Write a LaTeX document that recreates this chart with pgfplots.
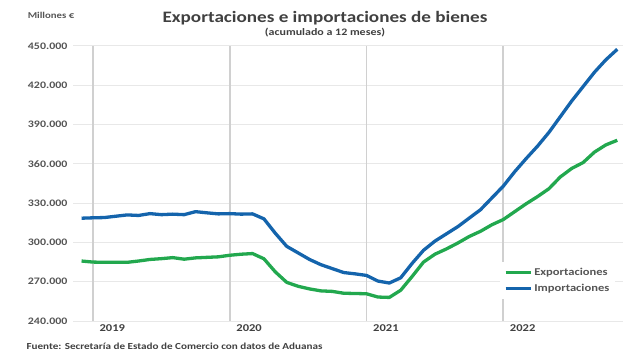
\documentclass[border=0pt]{standalone}
\usepackage{pgfplots}
\pgfplotsset{compat=1.18}
\usepackage{fontspec}
\setmainfont[FakeStretch=1.2]{Carlito}
\definecolor{expgreen}{RGB}{34,168,78}
\definecolor{impblue}{RGB}{20,100,172}
\definecolor{txt}{RGB}{85,85,85}
\definecolor{titc}{RGB}{64,64,64}
\definecolor{yearline}{RGB}{208,208,208}
\definecolor{gridc}{RGB}{232,232,232}
\begin{document}
\begin{tikzpicture}
\useasboundingbox (-73bp,-39bp) rectangle (567bp,321bp);
\begin{axis}[
 at={(0,0)}, anchor=south west,
 scale only axis, width=550bp, height=275bp,
 xmin=-1.75, xmax=46.5, ymin=240000, ymax=450000,
 axis line style={draw=none},
 major tick length=0pt,
 xtick={1.7,13.7,25.7,37.7}, xticklabels={2019,2020,2021,2022},
 ytick={240000,270000,300000,330000,360000,390000,420000,450000},
 scaled y ticks=false,
 yticklabel style={xshift=-2bp, /pgf/number format/.cd, fixed, 1000 sep={.}, assume math mode=true},
 ticklabel style={font=\bfseries\fontsize{10}{12}\selectfont, text=txt},
 xticklabel style={font=\bfseries\fontsize{10.5}{12}\selectfont, text=titc},
 ymajorgrids, grid style={gridc, line width=1bp},
 extra x ticks={0,12,24,36}, extra x tick labels={},
 extra x tick style={grid=major, major grid style={yearline, line width=1.8bp}},
 legend style={at={(0.776,0.215)}, anchor=north west, draw=none, fill=white,
   font=\bfseries\fontsize{10.5}{12}\selectfont, text=txt, row sep=3bp, inner sep=4bp},
 legend cell align=left,
 legend image code/.code={\draw[#1] (0bp,0bp) -- (25bp,0bp);},
]
\addplot[expgreen, line width=3.3bp, line join=round] coordinates {
(-1,285.8e3)(0,285.0e3)(1,284.8e3)(2,284.8e3)(3,284.8e3)(4,285.8e3)(5,287.0e3)(6,287.6e3)
(7,288.4e3)(8,287.2e3)(9,288.2e3)(10,288.6e3)(11,289.0e3)(12,290.2e3)(13,291.0e3)(14,291.5e3)
(15,287.5e3)(16,277.5e3)(17,269.5e3)(18,266.5e3)(19,264.5e3)(20,263.0e3)(21,262.6e3)(22,261.2e3)
(23,261.0e3)(24,260.8e3)(25,258.3e3)(26,258.0e3)(27,263.5e3)(28,274.0e3)(29,285.0e3)(30,291.0e3)
(31,295.0e3)(32,299.5e3)(33,304.5e3)(34,308.5e3)(35,313.5e3)(36,317.5e3)(37,323.5e3)(38,329.5e3)
(39,335.0e3)(40,341.0e3)(41,350.0e3)(42,356.5e3)(43,361.0e3)(44,369.0e3)(45,374.5e3)(46,378.0e3)
};
\addlegendentry{Exportaciones}
\addplot[impblue, line width=3.3bp, line join=round] coordinates {
(-1,318.5e3)(0,318.8e3)(1,319.0e3)(2,320.0e3)(3,321.0e3)(4,320.6e3)(5,322.0e3)(6,321.2e3)
(7,321.6e3)(8,321.2e3)(9,323.5e3)(10,322.6e3)(11,321.8e3)(12,322.0e3)(13,321.6e3)(14,321.8e3)
(15,318.0e3)(16,307.0e3)(17,297.0e3)(18,292.0e3)(19,287.0e3)(20,283.0e3)(21,280.0e3)(22,277.0e3)
(23,276.0e3)(24,274.8e3)(25,270.5e3)(26,269.0e3)(27,273.0e3)(28,284.0e3)(29,294.0e3)(30,301.0e3)
(31,306.5e3)(32,312.0e3)(33,318.5e3)(34,325.0e3)(35,334.0e3)(36,343.0e3)(37,354.0e3)(38,364.0e3)
(39,373.5e3)(40,384.0e3)(41,396.0e3)(42,408.0e3)(43,419.0e3)(44,430.0e3)(45,439.5e3)(46,447.5e3)
};
\addlegendentry{Importaciones}
\end{axis}
\node[font=\bfseries\fontsize{16}{19}\selectfont, text=titc] at (252bp,303bp) {Exportaciones e importaciones de bienes};
\node[font=\bfseries\fontsize{10}{12}\selectfont, text=titc] at (252bp,288bp) {(acumulado a 12 meses)};
\node[font=\bfseries\fontsize{9}{11}\selectfont, text=txt] at (-22bp,306bp) {Millones €};
\node[font=\bfseries\fontsize{9.3}{11}\selectfont, text=titc, anchor=west] at (-50bp,-25bp) {Fuente: Secretaría de Estado de Comercio con datos de Aduanas};
\end{tikzpicture}
\end{document}
